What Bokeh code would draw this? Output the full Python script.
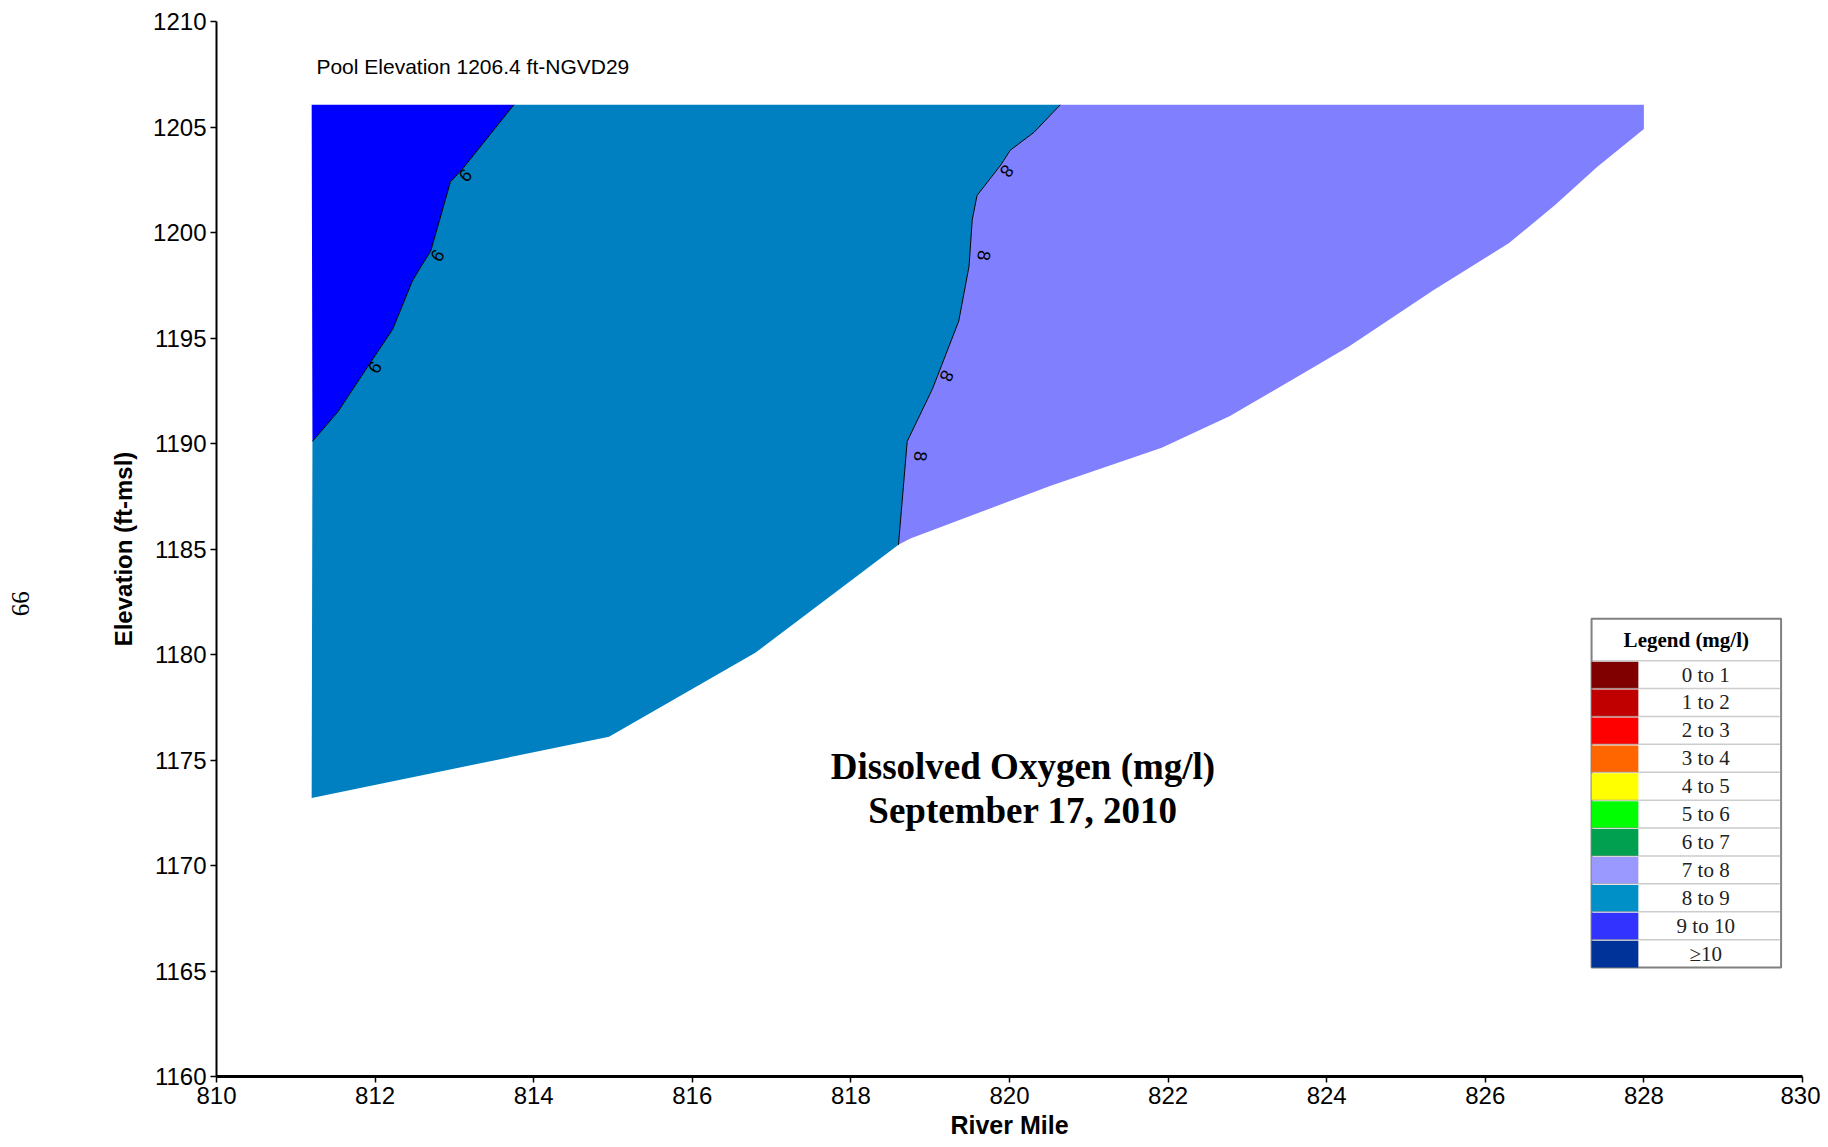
import numpy as np
from bokeh.plotting import figure
from bokeh.layouts import row
from bokeh.models import Range1d, FixedTicker
from bokeh.core.properties import value
from bokeh.embed import file_html
from bokeh.resources import INLINE

# ---------------- data ----------------
x_ticks = [810, 812, 814, 816, 818, 820, 822, 824, 826, 828, 830]
y_ticks = [1160, 1165, 1170, 1175, 1180, 1185, 1190, 1195, 1200, 1205, 1210]

pool_top = 1206.05
left_mile = 811.2
right_mile = 828.0

# river bed (bottom of the modelled section)
bed_mile = [811.2, 814.95, 816.8, 818.6, 818.75, 820.52, 821.92, 822.78, 824.28, 825.34, 826.3, 826.88, 827.41, 828.0]
bed_elev = [1173.2, 1176.1, 1180.1, 1185.2, 1185.5, 1188.0, 1189.8, 1191.3, 1194.6, 1197.25, 1199.5, 1201.3, 1203.1, 1204.9]

# 9 mg/l contour (top -> bottom)
c9_mile = [813.75, 813.10, 812.95, 812.70, 812.58, 812.47, 812.22, 811.90, 811.53, 811.21]
c9_elev = [1206.05, 1203.0, 1202.4, 1199.1, 1198.4, 1197.7, 1195.4, 1193.6, 1191.5, 1190.1]

# 8 mg/l contour (top -> bottom)
c8_mile = [820.64, 820.31, 820.01, 819.89, 819.59, 819.53, 819.49, 819.36, 819.03, 818.71, 818.6]
c8_elev = [1206.05, 1204.75, 1203.9, 1203.2, 1201.75, 1200.6, 1198.4, 1195.8, 1192.6, 1190.1, 1185.2]

# contour labels
lab9_mile = [813.14, 812.79, 812.0]
lab9_elev = [1202.7, 1198.9, 1193.6]
lab8_mile = [819.97, 819.68, 819.21, 818.88]
lab8_elev = [1202.9, 1198.9, 1193.2, 1189.4]

legend_labels = ["0 to 1", "1 to 2", "2 to 3", "3 to 4", "4 to 5", "5 to 6",
                 "6 to 7", "7 to 8", "8 to 9", "9 to 10", "\u226510"]
legend_colors = ["#800000", "#C00000", "#FF0000", "#FF6600", "#FFFF00", "#00FF00",
                 "#00A050", "#9999FF", "#0090C8", "#3333FF", "#003399"]

page_number = "66"

FILL_9_10 = "#0000FF"
FILL_8_9 = "#0080C0"
FILL_7_8 = "#8080FF"

# ---------------- layout constants ----------------
H = 1147
TOP_B, BOT_B = 21, 71
SIDE_W = 40
FRAME_W = 1586
MAIN_W = 1820 - SIDE_W
LEFT_B = 216 - SIDE_W
RIGHT_B = MAIN_W - LEFT_B - FRAME_W

# ---------------- main figure ----------------
p = figure(width=MAIN_W, height=H, x_range=Range1d(810, 830), y_range=Range1d(1160, 1210),
           output_backend="svg", toolbar_location=None,
           min_border_left=LEFT_B, min_border_right=RIGHT_B,
           min_border_top=TOP_B, min_border_bottom=BOT_B)
p.outline_line_color = None
p.grid.visible = False
p.background_fill_color = "white"
p.border_fill_color = "white"

PX_PER_MILE = FRAME_W / 20.0
PX_PER_FT = (H - TOP_B - BOT_B) / 50.0

# 9 to 10 region
b_x = [left_mile] + c9_mile
b_y = [pool_top] + c9_elev
p.patch(b_x, b_y, fill_color=FILL_9_10, line_color=None)

# 8 to 9 region
i8 = bed_mile.index(c8_mile[-1])
t_x = c9_mile[:1] + c8_mile + bed_mile[:i8 + 1][::-1] + c9_mile[::-1]
t_y = c9_elev[:1] + c8_elev + bed_elev[:i8 + 1][::-1] + c9_elev[::-1]
p.patch(t_x, t_y, fill_color=FILL_8_9, line_color=None)

# 7 to 8 region
u_x = [c8_mile[0], right_mile] + bed_mile[i8:][::-1] + c8_mile[::-1]
u_y = [c8_elev[0], pool_top] + bed_elev[i8:][::-1] + c8_elev[::-1]
p.patch(u_x, u_y, fill_color=FILL_7_8, line_color=None)

# contour lines
p.line(c9_mile, c9_elev, line_color="black", line_width=1)
p.line(c8_mile, c8_elev, line_color="black", line_width=1)


def label_angles(lx, ly, cx, cy):
    out = []
    for x, y in zip(lx, ly):
        d = [abs(yy - y) for yy in cy]
        k = int(np.argmin(d))
        k0, k1 = (k, k + 1) if k + 1 < len(cx) else (k - 1, k)
        dx = (cx[k0] - cx[k1]) * PX_PER_MILE
        dy = (cy[k0] - cy[k1]) * PX_PER_FT
        out.append(np.arctan2(dy, dx) - np.pi)
    return out


p.text(lab9_mile, lab9_elev, text=["9"] * len(lab9_mile),
       angle=label_angles(lab9_mile, lab9_elev, c9_mile, c9_elev),
       text_align="center", text_baseline="middle",
       text_font=value("Liberation Sans"), text_font_size="18px", text_color="black")
p.text(lab8_mile, lab8_elev, text=["8"] * len(lab8_mile),
       angle=label_angles(lab8_mile, lab8_elev, c8_mile, c8_elev),
       text_align="center", text_baseline="middle",
       text_font=value("Liberation Sans"), text_font_size="18px", text_color="black")

# annotation texts
p.text([811.26], [1207.87], text=["Pool Elevation 1206.4 ft-NGVD29"],
       text_align="left", text_baseline="middle",
       text_font=value("Liberation Sans"), text_font_size="21px", text_color="black")
p.text([820.17, 820.17], [1174.7, 1172.6],
       text=["Dissolved Oxygen (mg/l)", "September 17, 2010"],
       text_align="center", text_baseline="middle",
       text_font=value("Liberation Serif"), text_font_size="37px",
       text_font_style="bold", text_color="black")

# ---------------- legend box ----------------
LEG_L, LEG_R = 827.34, 829.73
LEG_TOP = 1181.7
TITLE_H = 42 / PX_PER_FT
ROW_H = 27.9 / PX_PER_FT
SW_R = 827.93
n = len(legend_labels)
row_tops = [LEG_TOP - TITLE_H - i * ROW_H for i in range(n)]
row_bots = [t - ROW_H for t in row_tops]
leg_bottom = row_bots[-1]

p.quad(left=[LEG_L], right=[LEG_R], top=[LEG_TOP], bottom=[leg_bottom],
       fill_color="white", line_color="#808080", line_width=2)
p.quad(left=[LEG_L] * n, right=[SW_R] * n,
       top=[t - 0.05 for t in row_tops], bottom=row_bots,
       fill_color=legend_colors, line_color=None)
p.multi_line([[LEG_L, LEG_R] for _ in range(n)], [[t, t] for t in row_tops],
             line_color="#999999", line_width=1.5, line_dash="1 1")
p.text([(LEG_L + LEG_R) / 2], [LEG_TOP - TITLE_H / 2], text=["Legend (mg/l)"],
       text_align="center", text_baseline="middle",
       text_font=value("Liberation Serif"), text_font_size="21px",
       text_font_style="bold", text_color="black")
p.text([(SW_R + LEG_R) / 2 - 0.05] * n, [t - ROW_H / 2 for t in row_tops], text=legend_labels,
       text_align="center", text_baseline="middle",
       text_font=value("Liberation Serif"), text_font_size="21px", text_color="#222222")

# ---------------- axes ----------------
for ax in (p.xaxis[0], p.yaxis[0]):
    ax.major_label_text_font = "Liberation Sans"
    ax.major_label_text_color = "black"
    ax.axis_label_text_font = "Liberation Sans"
    ax.axis_label_text_font_style = "bold"
    ax.axis_label_text_color = "black"
    ax.axis_line_color = "black"
    ax.major_tick_line_color = "black"
    ax.major_tick_line_width = 1.5
    ax.major_tick_out = 6
    ax.major_tick_in = 0
    ax.minor_tick_line_color = None

p.xaxis.ticker = FixedTicker(ticks=x_ticks)
p.yaxis.ticker = FixedTicker(ticks=y_ticks)
p.xaxis.axis_label = "River Mile"
p.yaxis.axis_label = "Elevation (ft-msl)"
p.xaxis.major_label_text_font_size = "24px"
p.yaxis.major_label_text_font_size = "24px"
p.xaxis.axis_label_text_font_size = "25px"
p.yaxis.axis_label_text_font_size = "24px"
p.xaxis.axis_line_width = 3
p.yaxis.axis_line_width = 2
p.xaxis.major_label_standoff = 4
p.yaxis.major_label_standoff = 4
p.xaxis.axis_label_standoff = 4
p.yaxis.axis_label_standoff = 13

# ---------------- side strip with the page number ----------------
s = figure(width=SIDE_W, height=H, x_range=Range1d(0, 1), y_range=Range1d(1160, 1210),
           output_backend="svg", toolbar_location=None,
           min_border_left=0, min_border_right=0,
           min_border_top=TOP_B, min_border_bottom=BOT_B)
s.axis.visible = False
s.grid.visible = False
s.outline_line_color = None
s.text([0.5], [1182.4], text=[page_number], angle=np.pi / 2,
       text_align="center", text_baseline="middle",
       text_font=value("Liberation Serif"), text_font_size="25px", text_color="black")

layout = row(s, p)
open("out.html", "w").write(file_html(layout, INLINE))
